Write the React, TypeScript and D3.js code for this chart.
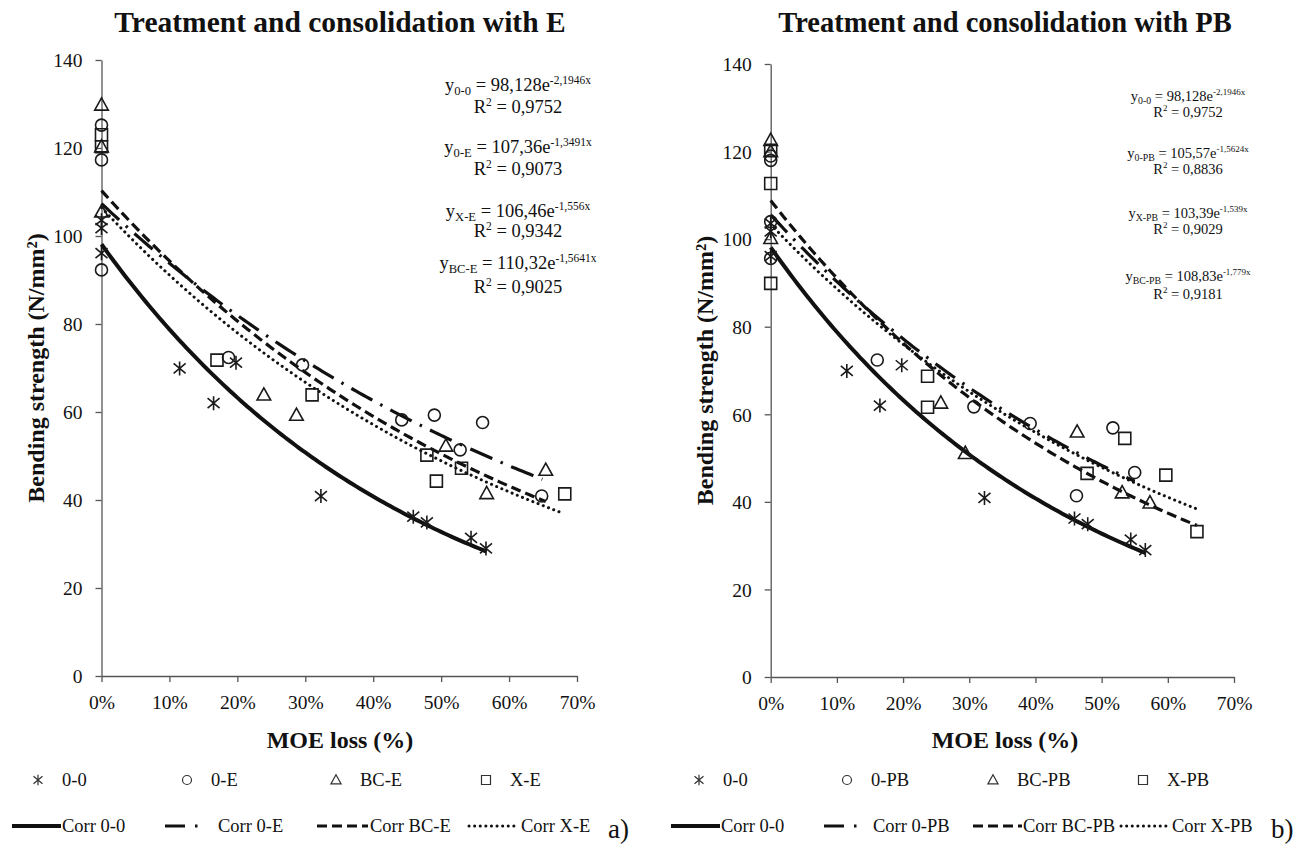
import React, { useEffect, useRef } from 'react';
import * as d3 from 'd3';

const X_TICKS = [0, 0.1, 0.2, 0.3, 0.4, 0.5, 0.6, 0.7];
const Y_TICKS = [0, 20, 40, 60, 80, 100, 120, 140];

// [MOE loss, bending strength]
// untreated series, same in both panels
const pts00 = [[0, 103.6], [0, 101.8], [0, 96.1], [0.115, 69.9], [0.165, 62.0], [0.198, 71.2], [0.323, 40.9], [0.459, 36.2], [0.479, 34.9], [0.544, 31.4], [0.566, 29.0]];

// panel a) consolidation with E
const pts0E = [[0, 125.2], [0, 117.3], [0, 92.3], [0.187, 72.4], [0.296, 70.7], [0.442, 58.2], [0.49, 59.3], [0.561, 57.6], [0.528, 51.4], [0.648, 40.9]];
const ptsBCE = [[0, 129.8], [0, 120.3], [0, 105.5], [0.239, 63.9], [0.287, 59.3], [0.507, 52.3], [0.567, 41.5], [0.654, 46.8]];
const ptsXE = [[0, 123.0], [0, 120.3], [0.17, 71.8], [0.31, 63.9], [0.479, 50.2], [0.53, 47.2], [0.493, 44.3], [0.682, 41.4]];

// panel b) consolidation with PB
const pts0PB = [[0, 119.0], [0, 118.0], [0, 104.0], [0, 95.6], [0.161, 72.4], [0.307, 61.7], [0.392, 57.9], [0.517, 56.9], [0.55, 46.7], [0.462, 41.4]];
const ptsBCPB = [[0, 122.6], [0, 120.0], [0, 100.2], [0.257, 62.6], [0.294, 51.1], [0.463, 56.0], [0.531, 42.1], [0.573, 39.8]];
const ptsXPB = [[0, 120.3], [0, 112.7], [0, 89.9], [0.237, 68.7], [0.237, 61.6], [0.535, 54.5], [0.478, 46.5], [0.597, 46.1], [0.644, 33.2]];

// exponential fits y = a * e^(b x), drawn from 0 up to xEnd
const fitNames = ['0-0', '0-E', 'BC-E', 'X-E'];
const fitA_E = [98.128, 107.36, 110.32, 106.46];
const fitB_E = [-2.1946, -1.3491, -1.5641, -1.556];
const fitEnd_E = [0.567, 0.649, 0.654, 0.68];

const fitNamesPB = ['0-0', '0-PB', 'BC-PB', 'X-PB'];
const fitA_PB = [98.128, 105.57, 108.83, 103.39];
const fitB_PB = [-2.1946, -1.5624, -1.779, -1.539];
const fitEnd_PB = [0.567, 0.55, 0.644, 0.644];

// equation labels, listed top to bottom
const eqSubs_E = ['0-0', '0-E', 'X-E', 'BC-E'];
const eqCoef_E = ['98,128', '107,36', '106,46', '110,32'];
const eqExp_E = ['-2,1946x', '-1,3491x', '-1,556x', '-1,5641x'];
const eqR2_E = ['0,9752', '0,9073', '0,9342', '0,9025'];

const eqSubs_PB = ['0-0', '0-PB', 'X-PB', 'BC-PB'];
const eqCoef_PB = ['98,128', '105,57', '103,39', '108,83'];
const eqExp_PB = ['-2,1946x', '-1,5624x', '-1,539x', '-1,779x'];
const eqR2_PB = ['0,9752', '0,8836', '0,9029', '0,9181'];

const FONT = '"Liberation Serif", "Times New Roman", serif';
const INK = '#111';

// line styles: solid, long dash + dot, dashed, dotted
const lineStyles = [
  { w: 4, dash: null, cap: 'butt' },
  { w: 3.2, dash: '24,9,2.5,9', cap: 'butt' },
  { w: 3.2, dash: '10,5', cap: 'butt' },
  { w: 3, dash: '0.1,5.5', cap: 'round' },
];

const markerPath = (kind, s = 1) => {
  if (kind === 'star') {
    return `M0,${-7 * s}L0,${7 * s}M${-6 * s},${-5 * s}L${6 * s},${5 * s}M${-6 * s},${5 * s}L${6 * s},${-5 * s}`;
  }
  if (kind === 'tri') {
    return `M0,${-7 * s}L${6.8 * s},${5.2 * s}L${-6.8 * s},${5.2 * s}Z`;
  }
  if (kind === 'square') {
    return `M${-6 * s},${-6 * s}H${6 * s}V${6 * s}H${-6 * s}Z`;
  }
  const r = 6 * s;
  return `M${-r},0A${r},${r} 0 1,0 ${r},0A${r},${r} 0 1,0 ${-r},0Z`;
};

const markerKinds = ['star', 'circle', 'tri', 'square'];

const drawPanel = (svg, cfg) => {
  const g = svg.append('g');

  const xScale = d3.scaleLinear().domain([0, 0.7]).range([cfg.x0, cfg.x1]);
  const yScale = d3.scaleLinear().domain([0, 140]).range([cfg.y0, cfg.y1]);

  // title
  g.append('text')
    .attr('x', cfg.cx)
    .attr('y', 32)
    .attr('text-anchor', 'middle')
    .attr('font-size', cfg.titleFont)
    .attr('font-weight', 'bold')
    .text(cfg.title);

  const xAxis = g.append('g')
    .attr('transform', `translate(0,${cfg.y0})`)
    .call(d3.axisBottom(xScale).tickValues(X_TICKS).tickFormat(d3.format('.0%')).tickSize(6).tickSizeOuter(0).tickPadding(13));
  const yAxis = g.append('g')
    .attr('transform', `translate(${cfg.x0},0)`)
    .call(d3.axisLeft(yScale).tickValues(Y_TICKS).tickSize(6).tickSizeOuter(0).tickPadding(13));

  [xAxis, yAxis].forEach(ax => {
    ax.selectAll('path,line').attr('stroke', '#555').attr('stroke-width', 1.3);
    ax.selectAll('text').attr('font-family', FONT).attr('font-size', 19.5).attr('fill', INK);
  });
  yAxis.selectAll('text').attr('dy', '0.35em');

  g.append('text')
    .attr('x', cfg.cx)
    .attr('y', 748)
    .attr('text-anchor', 'middle')
    .attr('font-size', 24)
    .attr('font-weight', 'bold')
    .text('MOE loss (%)');

  g.append('text')
    .attr('transform', `translate(${cfg.yTitleX},${(cfg.y0 + cfg.y1) / 2}) rotate(-90)`)
    .attr('text-anchor', 'middle')
    .attr('font-size', 24)
    .attr('font-weight', 'bold')
    .text('Bending strength (N/mm²)');

  // fitted curves
  const line = d3.line()
    .x(d => xScale(d[0]))
    .y(d => yScale(d[1]));

  cfg.fitA.forEach((a, i) => {
    const b = cfg.fitB[i];
    const xs = d3.range(0, cfg.fitEnd[i], 0.005).concat([cfg.fitEnd[i]]);
    const st = lineStyles[i];
    g.append('path')
      .datum(xs.map(v => [v, a * Math.exp(b * v)]))
      .attr('d', line)
      .attr('fill', 'none')
      .attr('stroke', INK)
      .attr('stroke-width', st.w)
      .attr('stroke-linecap', st.cap)
      .attr('stroke-dasharray', st.dash);
  });

  // points
  cfg.series.forEach((pts, i) => {
    g.selectAll(null)
      .data(pts)
      .enter()
      .append('path')
      .attr('transform', d => `translate(${xScale(d[0])},${yScale(d[1])})`)
      .attr('d', markerPath(markerKinds[i]))
      .attr('fill', 'none')
      .attr('stroke', '#1a1a1a')
      .attr('stroke-width', 1.6);
  });

  // equations
  cfg.eqSubs.forEach((sub, i) => {
    const fs = cfg.eqFont;
    const t = g.append('text')
      .attr('x', cfg.eqX)
      .attr('y', cfg.eqY[i])
      .attr('text-anchor', 'middle')
      .attr('font-size', fs);
    t.append('tspan').text('y');
    t.append('tspan').attr('font-size', fs * 0.68).attr('dy', fs * 0.2).text(sub);
    t.append('tspan').attr('dy', -fs * 0.2).text(` = ${cfg.eqCoef[i]}e`);
    t.append('tspan').attr('font-size', fs * 0.62).attr('dy', -fs * 0.38).text(cfg.eqExp[i]);

    const r = g.append('text')
      .attr('x', cfg.eqX)
      .attr('y', cfg.eqY[i] + cfg.eqGap[i])
      .attr('text-anchor', 'middle')
      .attr('font-size', fs);
    r.append('tspan').text('R');
    r.append('tspan').attr('font-size', fs * 0.62).attr('dy', -fs * 0.38).text('2');
    r.append('tspan').attr('dy', fs * 0.38).text(` = ${cfg.eqR2[i]}`);
  });

  // legend, markers row
  cfg.names.forEach((name, i) => {
    const lx = cfg.legMarkX[i];
    g.append('path')
      .attr('transform', `translate(${lx},780)`)
      .attr('d', markerPath(markerKinds[i], 0.75))
      .attr('fill', 'none')
      .attr('stroke', '#333')
      .attr('stroke-width', 1.2);
    g.append('text')
      .attr('x', lx + 24)
      .attr('y', 786)
      .attr('font-size', 18.5)
      .text(name);
  });

  // legend, lines row
  cfg.names.forEach((name, i) => {
    const [l0, l1] = cfg.legLine[i];
    const st = lineStyles[i];
    g.append('line')
      .attr('x1', l0).attr('x2', l1)
      .attr('y1', 826).attr('y2', 826)
      .attr('stroke', INK)
      .attr('stroke-width', st.w)
      .attr('stroke-linecap', st.cap)
      .attr('stroke-dasharray', i === 1 ? '20,10,2.5,9' : st.dash);
    g.append('text')
      .attr('x', cfg.legText[i])
      .attr('y', 832)
      .attr('font-size', 18.5)
      .text(`Corr ${name}`);
  });

  g.append('text')
    .attr('x', cfg.tagX)
    .attr('y', 838)
    .attr('font-size', 27)
    .text(cfg.tag);
};

const App = () => {
  const svgRef = useRef();

  useEffect(() => {
    const svg = d3.select(svgRef.current);
    svg.selectAll('*').remove();

    drawPanel(svg, {
      title: 'Treatment and consolidation with E',
      titleFont: 29.5,
      tag: 'a)',
      tagX: 608,
      cx: 340,
      x0: 101.5, x1: 577, y0: 676, y1: 60,
      yTitleX: 44,
      series: [pts00, pts0E, ptsBCE, ptsXE],
      names: fitNames,
      fitA: fitA_E, fitB: fitB_E, fitEnd: fitEnd_E,
      eqSubs: eqSubs_E, eqCoef: eqCoef_E, eqExp: eqExp_E, eqR2: eqR2_E,
      eqX: 518, eqY: [91, 153, 217, 269], eqGap: [22, 22, 20, 24], eqFont: 18.5,
      legMarkX: [38, 187, 336, 486],
      legLine: [[12, 61], [165, 198], [317, 368], [469, 517]],
      legText: [62, 218, 370, 521],
    });

    drawPanel(svg, {
      title: 'Treatment and consolidation with PB',
      titleFont: 28.5,
      tag: 'b)',
      tagX: 1271,
      cx: 1005,
      x0: 770.7, x1: 1234, y0: 677, y1: 64,
      yTitleX: 713,
      series: [pts00, pts0PB, ptsBCPB, ptsXPB],
      names: fitNamesPB,
      fitA: fitA_PB, fitB: fitB_PB, fitEnd: fitEnd_PB,
      eqSubs: eqSubs_PB, eqCoef: eqCoef_PB, eqExp: eqExp_PB, eqR2: eqR2_PB,
      eqX: 1188, eqY: [101, 158, 218, 281], eqGap: [16, 16, 16, 18], eqFont: 14.5,
      legMarkX: [699, 847, 993, 1143],
      legLine: [[671, 720], [824, 862], [973, 1022], [1121, 1168]],
      legText: [721, 873, 1023, 1172],
    });
  }, []);

  return (
    <svg
      ref={svgRef}
      width={1305}
      height={853}
      style={{ position: 'absolute', left: 0, top: 0, background: '#fff', fontFamily: FONT, fill: INK }}
    />
  );
};

export default App;
